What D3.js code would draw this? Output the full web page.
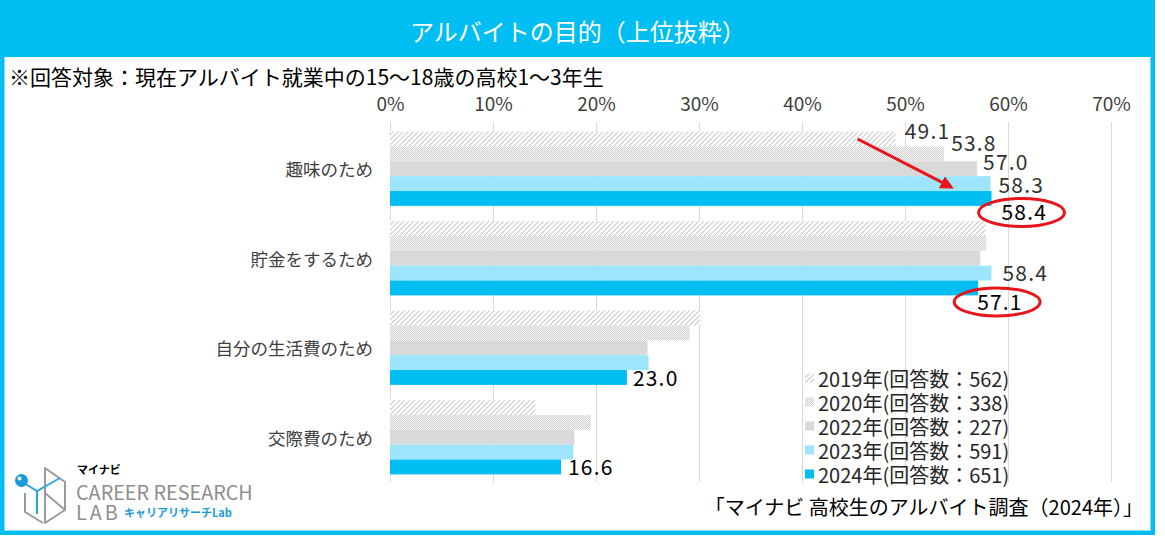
<!DOCTYPE html>
<html>
<head>
<meta charset="utf-8">
<script src="https://cdn.jsdelivr.net/npm/d3@7"></script>
<style>
  body { margin: 0; background: #fff; }
  text { font-family: "Noto Sans CJK JP", "Noto Sans", sans-serif; }
</style>
</head>
<body>
<script>
// chart data
var categories = ['趣味のため', '貯金をするため', '自分の生活費のため', '交際費のため'];
var years = ['2019', '2020', '2022', '2023', '2024'];
var legendLabels = ['2019年(回答数：562)', '2020年(回答数：338)', '2022年(回答数：227)', '2023年(回答数：591)', '2024年(回答数：651)'];
var values2019 = [49.1, 57.8, 30.1, 14.1];
var values2020 = [53.8, 57.9, 29.1, 19.5];
var values2022 = [57.0, 57.3, 25.0, 17.9];
var values2023 = [58.3, 58.4, 25.1, 17.8];
var values2024 = [58.4, 57.1, 23.0, 16.6];
var tickValues = [0, 10, 20, 30, 40, 50, 60, 70];

var width = 1165;
var height = 542;
var blue = '#00BEF2';

var seriesValues = [values2019, values2020, values2022, values2023, values2024];
var fills = ['url(#hatch)', 'url(#dots)', '#D9D9D9', '#9CE5FD', blue];

// which labels are shown, with nudges (category index, year index, dx, dy)
var shownLabels = [
  [0, 0, 9, -9], [0, 1, 7, -12], [0, 2, 6, -8], [0, 3, 8, 0], [0, 4, 10, 13],
  [1, 3, 11, -1], [1, 4, -1, 13],
  [2, 4, 6, 0],
  [3, 4, 7, -1]
];
var circled = [[0, 4], [1, 4]];

var svg = d3.select('body').append('svg').attr('width', width).attr('height', height);

var defs = svg.append('defs');
var hatch = defs.append('pattern').attr('id', 'hatch').attr('patternUnits', 'userSpaceOnUse')
  .attr('width', 5).attr('height', 5);
hatch.append('rect').attr('width', 5).attr('height', 5).attr('fill', '#fff');
hatch.append('path').attr('d', 'M0,5 L5,0 M-1,1 L1,-1 M4,6 L6,4')
  .attr('stroke', '#CACACA').attr('stroke-width', 1.1);

var dots = defs.append('pattern').attr('id', 'dots').attr('patternUnits', 'userSpaceOnUse')
  .attr('width', 2).attr('height', 2);
dots.append('rect').attr('width', 2).attr('height', 2).attr('fill', '#F7F7F7');
dots.append('rect').attr('width', 1).attr('height', 1).attr('fill', '#D0D0D0');
dots.append('rect').attr('x', 1).attr('y', 1).attr('width', 1).attr('height', 1).attr('fill', '#D0D0D0');

defs.append('marker').attr('id', 'arrowhead').attr('viewBox', '0 0 10 10')
  .attr('refX', 8).attr('refY', 5).attr('markerWidth', 4.5).attr('markerHeight', 4.5)
  .attr('orient', 'auto')
  .append('path').attr('d', 'M0,0 L10,5 L0,10 z').attr('fill', '#E8141B');

// frame + title
svg.append('rect').attr('x', 2.25).attr('y', 1).attr('width', 1150.5).attr('height', 531.75)
  .attr('fill', 'none').attr('stroke', blue).attr('stroke-width', 4.5);
svg.append('rect').attr('x', 0).attr('y', 0).attr('width', 1155).attr('height', 57).attr('fill', blue);
svg.append('text').attr('x', 578).attr('y', 30).attr('text-anchor', 'middle')
  .attr('dominant-baseline', 'central').attr('fill', '#fff').attr('font-size', 24)
  .text('アルバイトの目的（上位抜粋）');

svg.append('text').attr('x', 9).attr('y', 76).attr('dominant-baseline', 'central')
  .attr('fill', '#000').attr('font-size', 21)
  .text('※回答対象：現在アルバイト就業中の15～18歳の高校1～3年生');

// scales
var x = d3.scaleLinear().domain([0, 70]).range([390, 1111]);
var y = d3.scaleBand().domain(categories).range([124, 482]).paddingInner(0.17).paddingOuter(0.085);
var ySub = d3.scaleBand().domain(years).range([0, y.bandwidth()]);

// gridlines
svg.append('g').selectAll('line').data(tickValues).enter().append('line')
  .attr('x1', function(d){ return x(d) + 0.5; })
  .attr('x2', function(d){ return x(d) + 0.5; })
  .attr('y1', 122).attr('y2', 482)
  .attr('stroke', '#D9D9D9').attr('stroke-width', 1);

// top axis
var xAxis = d3.axisTop(x).tickValues(tickValues).tickSize(0).tickFormat(function(d){ return d + '%'; });
var axisG = svg.append('g').attr('transform', 'translate(0,104)').call(xAxis);
axisG.select('.domain').remove();
axisG.selectAll('text').attr('font-size', 19).attr('fill', '#404040')
  .attr('font-family', '"Noto Sans CJK JP", sans-serif').attr('dy', '0.35em').attr('y', 0);

// category labels
svg.append('g').selectAll('text').data(categories).enter().append('text')
  .attr('x', 373)
  .attr('y', function(d){ return y(d) + y.bandwidth() / 2; })
  .attr('text-anchor', 'end').attr('dominant-baseline', 'central')
  .attr('font-size', 17.5).attr('fill', '#404040')
  .text(function(d){ return d; });

// bars
years.forEach(function(yr, j){
  svg.append('g').selectAll('rect').data(categories).enter().append('rect')
    .attr('x', x(0))
    .attr('y', function(d){ return y(d) + ySub(yr); })
    .attr('width', function(d, i){ return x(seriesValues[j][i]) - x(0); })
    .attr('height', ySub.bandwidth())
    .attr('fill', fills[j]);
});

// value labels
var labelPos = function(l){
  var cat = categories[l[0]];
  var v = seriesValues[l[1]][l[0]];
  return {
    x: x(v) + l[2],
    y: y(cat) + ySub(years[l[1]]) + ySub.bandwidth() / 2 + l[3],
    v: v,
    latest: l[1] === 4
  };
};
svg.append('g').selectAll('text').data(shownLabels).enter().append('text')
  .attr('x', function(d){ return labelPos(d).x; })
  .attr('y', function(d){ return labelPos(d).y; })
  .attr('dominant-baseline', 'central')
  .attr('font-size', 21).attr('letter-spacing', 1.2)
  .attr('fill', function(d){ return labelPos(d).latest ? '#000' : '#333'; })
  .text(function(d){ return labelPos(d).v.toFixed(1); });

// red circles round 2024 labels
circled.forEach(function(c){
  var p = labelPos(shownLabels.filter(function(l){ return l[0] === c[0] && l[1] === c[1]; })[0]);
  svg.append('ellipse').attr('cx', p.x + 20).attr('cy', p.y + 1).attr('rx', 43).attr('ry', 14)
    .attr('fill', 'none').attr('stroke', '#E8141B').attr('stroke-width', 3);
});

// red arrow
svg.append('line')
  .attr('x1', x(45.4)).attr('y1', y(categories[0]) + ySub('2019') + ySub.bandwidth() / 2)
  .attr('x2', x(54.5)).attr('y2', y(categories[0]) + ySub('2023') + 11)
  .attr('stroke', '#E8141B').attr('stroke-width', 3)
  .attr('marker-end', 'url(#arrowhead)');

// legend
var legend = svg.append('g').attr('transform', 'translate(805,378)');
legendLabels.forEach(function(lbl, j){
  var row = legend.append('g').attr('transform', 'translate(0,' + (j * 24) + ')');
  row.append('rect').attr('x', 0).attr('y', -4.5).attr('width', 9).attr('height', 9).attr('fill', fills[j]);
  row.append('text').attr('x', 13).attr('y', 0).attr('dominant-baseline', 'central')
    .attr('font-size', 20).attr('fill', '#262626').text(lbl);
});

// source
svg.append('text').attr('x', 1143).attr('y', 506).attr('text-anchor', 'end')
  .attr('dominant-baseline', 'central').attr('font-size', 20).attr('fill', '#000')
  .text('「マイナビ 高校生のアルバイト調査（2024年）」');

// logo
var logo = svg.append('g');
logo.append('path')
  .attr('d', 'M25,493 L25,512 L43,523 M45,468 L45,523 L65,510 L65,482 Z M45,493 L65,510')
  .attr('fill', 'none').attr('stroke', '#9A9A9A').attr('stroke-width', 2).attr('stroke-linejoin', 'round');
logo.append('path')
  .attr('d', 'M24,483 L37,491 L60,478 M37,491 L37,514')
  .attr('fill', 'none').attr('stroke', '#2AA7E0').attr('stroke-width', 2);
logo.append('circle').attr('cx', 21.5).attr('cy', 480.5).attr('r', 6.5).attr('fill', '#1A9BD7');
logo.append('circle').attr('cx', 19.5).attr('cy', 478.5).attr('r', 2).attr('fill', '#fff');
logo.append('text').attr('x', 77).attr('y', 474).attr('font-size', 11).attr('font-weight', 700)
  .attr('fill', '#000').text('マイナビ');
logo.append('text').attr('x', 76).attr('y', 500).attr('font-size', 19.8)
  .attr('font-family', 'Lato, sans-serif').attr('fill', '#8E8E8E').text('CAREER RESEARCH');
logo.append('text').attr('x', 76).attr('y', 520).attr('font-size', 19.8)
  .attr('font-family', 'Lato, sans-serif').attr('fill', '#8E8E8E').attr('letter-spacing', 3).text('LAB');
logo.append('text').attr('x', 124).attr('y', 517).attr('font-size', 11).attr('font-weight', 700)
  .attr('fill', '#1A9BD7').text('キャリアリサーチLab');
</script>
</body>
</html>
